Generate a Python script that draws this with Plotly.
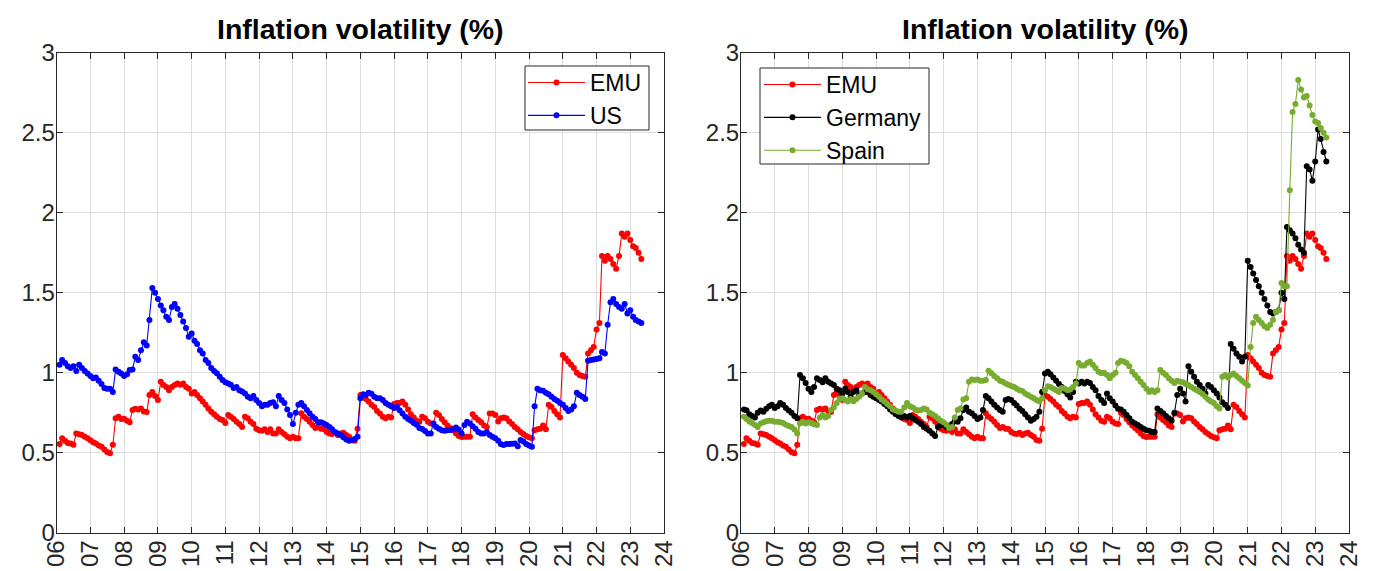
import pandas as pd
import plotly.graph_objects as go

# Monthly observations, Feb 2006 .. May 2023
months = pd.date_range("2006-02-01", "2023-05-01", freq="MS")

emu = [
    0.555, 0.59, 0.575, 0.56, 0.558, 0.55, 0.62, 0.615, 0.61, 0.60, 0.59,
    0.578, 0.565, 0.558, 0.545, 0.537, 0.52, 0.505, 0.497, 0.55, 0.715, 0.725, 0.71,
    0.712, 0.70, 0.69, 0.767, 0.775, 0.77, 0.777, 0.757, 0.755, 0.86, 0.88, 0.855,
    0.83, 0.944, 0.923, 0.91, 0.89, 0.91, 0.923, 0.933, 0.925, 0.933, 0.91, 0.90,
    0.87, 0.88, 0.86, 0.84, 0.82, 0.80, 0.777, 0.756, 0.74, 0.725, 0.71, 0.705,
    0.685, 0.735, 0.725, 0.71, 0.694, 0.68, 0.66, 0.725, 0.715, 0.694, 0.68, 0.65,
    0.64, 0.637, 0.646, 0.63, 0.646, 0.62, 0.62, 0.646, 0.63, 0.615, 0.60, 0.59,
    0.60, 0.59, 0.59, 0.746, 0.725, 0.71, 0.694, 0.673, 0.655, 0.66, 0.65, 0.648,
    0.63, 0.62, 0.617, 0.625, 0.61, 0.62, 0.625, 0.61, 0.60, 0.58, 0.575, 0.65,
    0.86, 0.85, 0.835, 0.82, 0.80, 0.785, 0.76, 0.745, 0.725, 0.715, 0.725, 0.72,
    0.805, 0.81, 0.81, 0.82, 0.80, 0.77, 0.74, 0.72, 0.70, 0.694, 0.725, 0.715,
    0.694, 0.683, 0.68, 0.75, 0.735, 0.71, 0.69, 0.67, 0.655, 0.64, 0.62, 0.605,
    0.598, 0.60, 0.60, 0.60, 0.74, 0.72, 0.705, 0.69, 0.67, 0.66, 0.745, 0.745,
    0.735, 0.695, 0.715, 0.72, 0.715, 0.695, 0.68, 0.66, 0.646, 0.63, 0.617, 0.604,
    0.596, 0.59, 0.64, 0.646, 0.65, 0.67, 0.646, 0.80, 0.785, 0.76, 0.74, 0.72,
    1.11, 1.09, 1.07, 1.05, 1.03, 1.00, 0.985, 0.98, 0.975, 1.12, 1.14, 1.16,
    1.27, 1.31, 1.73, 1.70, 1.73, 1.71, 1.68, 1.65, 1.73, 1.87, 1.85, 1.87,
    1.83, 1.79, 1.78, 1.75, 1.71,
]

us = [
    1.05, 1.08, 1.06, 1.04, 1.03, 1.04, 1.01, 1.05, 1.03, 1.01, 0.995,
    0.98, 0.965, 0.97, 0.95, 0.93, 0.905, 0.90, 0.90, 0.88, 1.02, 1.006, 0.995,
    0.98, 0.99, 1.017, 1.02, 1.10, 1.08, 1.14, 1.19, 1.17, 1.33, 1.53, 1.50,
    1.46, 1.42, 1.39, 1.35, 1.33, 1.41, 1.43, 1.40, 1.36, 1.32, 1.28, 1.225,
    1.245, 1.20, 1.18, 1.14, 1.12, 1.08, 1.06, 1.03, 1.01, 0.996, 0.975, 0.955,
    0.94, 0.933, 0.925, 0.905, 0.91, 0.89, 0.882, 0.87, 0.85, 0.84, 0.854, 0.83,
    0.81, 0.79, 0.80, 0.80, 0.81, 0.815, 0.79, 0.854, 0.83, 0.81, 0.77, 0.735,
    0.68, 0.75, 0.80, 0.81, 0.79, 0.767, 0.746, 0.725, 0.71, 0.69, 0.69, 0.683,
    0.673, 0.66, 0.646, 0.63, 0.62, 0.61, 0.596, 0.583, 0.575, 0.578, 0.585, 0.60,
    0.84, 0.865, 0.86, 0.875, 0.868, 0.85, 0.84, 0.84, 0.83, 0.81, 0.80, 0.79,
    0.78, 0.785, 0.765, 0.745, 0.725, 0.71, 0.70, 0.685, 0.675, 0.655, 0.648, 0.635,
    0.62, 0.62, 0.683, 0.66, 0.65, 0.64, 0.637, 0.64, 0.642, 0.645, 0.658, 0.645,
    0.62, 0.673, 0.694, 0.683, 0.665, 0.65, 0.63, 0.62, 0.62, 0.63, 0.61, 0.60,
    0.59, 0.575, 0.555, 0.548, 0.554, 0.554, 0.556, 0.558, 0.54, 0.58, 0.57, 0.555,
    0.545, 0.537, 0.79, 0.90, 0.89, 0.887, 0.875, 0.865, 0.85, 0.835, 0.825, 0.81,
    0.80, 0.78, 0.76, 0.77, 0.79, 0.875, 0.86, 0.85, 0.835, 1.075, 1.08, 1.083,
    1.085, 1.09, 1.13, 1.12, 1.30, 1.44, 1.46, 1.43, 1.41, 1.40, 1.43, 1.37,
    1.39, 1.35, 1.33, 1.32, 1.31,
]

germany = [
    0.77, 0.765, 0.74, 0.73, 0.72, 0.75, 0.763, 0.756, 0.775, 0.79, 0.80,
    0.78, 0.79, 0.81, 0.80, 0.78, 0.763, 0.75, 0.73, 0.715, 0.985, 0.965, 0.935,
    0.90, 0.88, 0.91, 0.965, 0.954, 0.94, 0.965, 0.944, 0.933, 0.923, 0.90, 0.89,
    0.87, 0.90, 0.88, 0.85, 0.88, 0.89, 0.86, 0.87, 0.88, 0.88, 0.86, 0.85,
    0.84, 0.83, 0.82, 0.804, 0.79, 0.77, 0.756, 0.74, 0.73, 0.72, 0.73, 0.72,
    0.73, 0.715, 0.704, 0.694, 0.68, 0.66, 0.65, 0.637, 0.62, 0.604, 0.66, 0.673,
    0.673, 0.66, 0.667, 0.68, 0.70, 0.694, 0.715, 0.767, 0.783, 0.756, 0.746, 0.73,
    0.71, 0.72, 0.767, 0.854, 0.84, 0.82, 0.80, 0.783, 0.767, 0.756, 0.83, 0.835,
    0.83, 0.81, 0.795, 0.775, 0.76, 0.74, 0.72, 0.70, 0.71, 0.725, 0.756, 0.88,
    0.995, 1.006, 0.99, 0.97, 0.95, 0.93, 0.91, 0.885, 0.865, 0.845, 0.88, 0.944,
    0.933, 0.944, 0.933, 0.944, 0.935, 0.91, 0.89, 0.855, 0.83, 0.81, 0.87, 0.84,
    0.82, 0.795, 0.775, 0.77, 0.756, 0.735, 0.715, 0.694, 0.683, 0.673, 0.66, 0.65,
    0.64, 0.637, 0.63, 0.63, 0.777, 0.76, 0.746, 0.73, 0.715, 0.70, 0.75, 0.86,
    0.90, 0.87, 0.82, 1.04, 1.006, 0.975, 0.944, 0.923, 0.90, 0.87, 0.923, 0.91,
    0.89, 0.87, 0.845, 0.815, 0.80, 0.78, 1.18, 1.15, 1.12, 1.10, 1.07, 1.10,
    1.70, 1.66, 1.62, 1.58, 1.54, 1.50, 1.46, 1.42, 1.38, 1.37, 1.38, 1.39,
    1.50, 1.46, 1.91, 1.89, 1.87, 1.84, 1.80, 1.77, 1.75, 2.29, 2.27, 2.20,
    2.32, 2.52, 2.46, 2.38, 2.32,
]

spain = [
    0.725, 0.71, 0.695, 0.685, 0.673, 0.66, 0.683, 0.69, 0.697, 0.70, 0.70,
    0.694, 0.694, 0.69, 0.685, 0.675, 0.667, 0.66, 0.645, 0.62, 0.683, 0.694, 0.683,
    0.69, 0.685, 0.678, 0.673, 0.72, 0.735, 0.72, 0.73, 0.767, 0.783, 0.81, 0.835,
    0.84, 0.83, 0.82, 0.835, 0.822, 0.835, 0.85, 0.87, 0.91, 0.896, 0.89, 0.88,
    0.865, 0.85, 0.833, 0.82, 0.804, 0.79, 0.77, 0.763, 0.756, 0.756, 0.783, 0.81,
    0.79, 0.783, 0.77, 0.763, 0.767, 0.777, 0.77, 0.75, 0.74, 0.73, 0.715, 0.70,
    0.69, 0.675, 0.655, 0.66, 0.72, 0.767, 0.777, 0.833, 0.84, 0.944, 0.958, 0.954,
    0.958, 0.95, 0.95, 0.954, 1.012, 0.996, 0.98, 0.965, 0.95, 0.944, 0.933, 0.925,
    0.917, 0.91, 0.90, 0.89, 0.885, 0.87, 0.86, 0.85, 0.84, 0.83, 0.82, 0.84,
    0.89, 0.915, 0.91, 0.90, 0.89, 0.88, 0.905, 0.90, 0.89, 0.895, 0.91, 0.933,
    1.06, 1.045, 1.045, 1.06, 1.07, 1.05, 1.03, 1.006, 0.996, 1.0, 0.985, 0.965,
    0.985, 1.0, 1.06, 1.075, 1.07, 1.06, 1.04, 1.006, 0.985, 0.965, 0.944, 0.923,
    0.90, 0.88, 0.89, 0.88, 0.89, 1.017, 1.0, 0.985, 0.965, 0.95, 0.935, 0.95,
    0.944, 0.94, 0.93, 0.923, 0.91, 0.90, 0.89, 0.88, 0.867, 0.85, 0.833, 0.82,
    0.81, 0.79, 0.777, 0.975, 0.985, 0.97, 0.985, 0.995, 0.98, 0.965, 0.95, 0.935,
    0.92, 1.16, 1.31, 1.35, 1.33, 1.31, 1.29, 1.28, 1.30, 1.33, 1.38, 1.39,
    1.56, 1.54, 1.54, 2.14, 2.63, 2.68, 2.83, 2.77, 2.72, 2.73, 2.67, 2.61,
    2.57, 2.56, 2.53, 2.50, 2.47,
]

for name, s in [("emu", emu), ("us", us), ("germany", germany), ("spain", spain)]:
    assert len(s) == len(months), (name, len(s), len(months))

year_ticks = pd.to_datetime([f"{y}-01-01" for y in range(2006, 2025)])
year_labels = ["06", "07", "08", "09", "10", "11", "12", "13", "14", "15",
               "16", "17", "18", "19", "20", "21", "22", "23", "24"]
y_ticks = [0, 0.5, 1, 1.5, 2, 2.5, 3]
y_labels = ["0", "0.5", "1", "1.5", "2", "2.5", "3"]

title_text = "Inflation volatility (%)"

# The page body has an 8 px margin, so the figure is drawn 8 px in from the window's corner.
OFF = 8
W, H = 1365, 563
FONT = "Liberation Sans, Arial, Helvetica, sans-serif"
AX = "#262626"
GRID = "#dedede"

RED = "#ff0000"
BLUE = "#0000ff"
BLACK = "#000000"
GREEN = "#77ac30"


def fx(p):  # window pixel x -> paper fraction
    return (p - OFF) / W


def fy(p):  # window pixel y -> paper fraction
    return 1 - (p - OFF) / H


fig = go.Figure()


def add_series(y, name, color, xa, ya, legend):
    fig.add_trace(go.Scatter(
        x=months, y=y, name=name, mode="lines+markers",
        line=dict(color=color, width=1.1),
        marker=dict(color=color, size=6),
        xaxis=xa, yaxis=ya, legend=legend,
    ))


add_series(emu, "EMU", RED, "x", "y", "legend")
add_series(us, "US", BLUE, "x", "y", "legend")
add_series(emu, "EMU", RED, "x2", "y2", "legend2")
add_series(germany, "Germany", BLACK, "x2", "y2", "legend2")
add_series(spain, "Spain", GREEN, "x2", "y2", "legend2")

ydom = [fy(532.7), fy(52.7)]
xdom1 = [fx(56.7), fx(664.0)]
xdom2 = [fx(741.0), fx(1349.0)]

xcommon = dict(
    range=[pd.Timestamp("2006-01-01"), pd.Timestamp("2024-01-01")],
    tickmode="array", tickvals=year_ticks, ticktext=year_labels,
    tickangle=-90, ticks="inside", ticklen=6, tickwidth=1, tickcolor=AX,
    showline=True, linecolor=AX, linewidth=1, mirror="ticks",
    showgrid=True, gridcolor=GRID, gridwidth=1, zeroline=False,
    tickfont=dict(family=FONT, size=24, color=AX), automargin=False,
    ticklabelstandoff=-3,
)
ycommon = dict(
    range=[0, 3], tickmode="array", tickvals=y_ticks, ticktext=y_labels,
    ticks="inside", ticklen=6, tickwidth=1, tickcolor=AX,
    showline=True, linecolor=AX, linewidth=1, mirror="ticks",
    showgrid=True, gridcolor=GRID, gridwidth=1, zeroline=False,
    tickfont=dict(family=FONT, size=24, color=AX), domain=ydom, automargin=False,
    ticklabelstandoff=-4,
)

legend_common = dict(
    bgcolor="rgba(0,0,0,0)", borderwidth=0,
    font=dict(family=FONT, size=23, color="#000000"),
    xanchor="left", yanchor="top", itemwidth=57, tracegroupgap=0,
    itemclick=False, itemdoubleclick=False,
)

legend_box = dict(type="rect", xref="paper", yref="paper", layer="above",
                  line=dict(color=AX, width=1), fillcolor="white")

title_font = dict(family=FONT, size=28.5, color="#000000")

fig.update_layout(
    width=W, height=H,
    margin=dict(l=0, r=0, t=0, b=0, autoexpand=False),
    paper_bgcolor="white", plot_bgcolor="white",
    font=dict(family=FONT, color=AX),
    xaxis=dict(domain=xdom1, anchor="y", **xcommon),
    yaxis=dict(anchor="x", **ycommon),
    xaxis2=dict(domain=xdom2, anchor="y2", **xcommon),
    yaxis2=dict(anchor="x2", **ycommon),
    legend=dict(x=fx(523), y=fy(61), **legend_common),
    legend2=dict(x=fx(759), y=fy(63), **legend_common),
    shapes=[
        dict(x0=fx(525), x1=fx(649), y0=fy(130), y1=fy(66), **legend_box),
        dict(x0=fx(760), x1=fx(929), y0=fy(164), y1=fy(68), **legend_box),
    ],
    annotations=[
        dict(text=f"<b>{title_text}</b>", xref="x domain", yref="y domain",
             x=0.5, y=1, xanchor="center", yanchor="bottom", yshift=6,
             showarrow=False, font=title_font),
        dict(text=f"<b>{title_text}</b>", xref="x2 domain", yref="y2 domain",
             x=0.5, y=1, xanchor="center", yanchor="bottom", yshift=6,
             showarrow=False, font=title_font),
    ],
    showlegend=True,
)

fig.write_html("out.html")
